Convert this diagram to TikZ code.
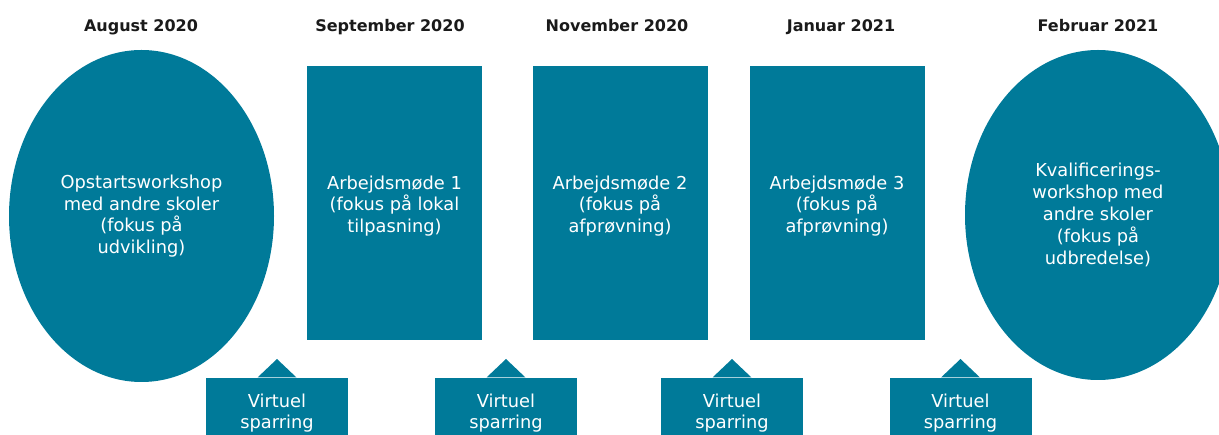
\documentclass[tikz,border=0pt]{standalone}
\usepackage{fontspec}
\setmainfont{DejaVu Sans}
\usetikzlibrary{shapes.geometric}
\definecolor{teal1}{RGB}{0,122,153}
\definecolor{hdr}{RGB}{26,26,26}
\tikzset{
  shapefill/.style={fill=teal1, draw=none, text=white, align=center, inner sep=0pt,
    font=\fontsize{17.8}{21.8}\selectfont},
  oval/.style={shapefill, ellipse},
  block/.style={shapefill, rectangle, minimum width=175pt, minimum height=274pt},
  callbox/.style={fill=teal1, draw=none, minimum width=142pt, minimum height=64pt, anchor=north, inner sep=0pt},
  calltext/.style={text=white, align=center, inner sep=0pt, font=\fontsize{17.8}{21}\selectfont},
  header/.style={text=hdr, anchor=base, inner sep=0pt, font=\bfseries\fontsize{16}{19}\selectfont}
}
\begin{document}
\begin{tikzpicture}[x=1pt,y=-1pt]
\useasboundingbox (0,0) rectangle (1219,435);
\clip (0,0) rectangle (1219,435);
% headers
\node[header] (h1) at (141,32) {August 2020};
\node[header] (h2) at (390,32) {September 2020};
\node[header] (h3) at (617,32) {November 2020};
\node[header] (h4) at (841,32) {Januar 2021};
\node[header] (h5) at (1098,32) {Februar 2021};
% main shapes
\node[oval, minimum width=265pt, minimum height=332pt] (e1) at (141.5,216)
  {Opstartsworkshop\\med andre skoler\\(fokus på\\udvikling)};
\node[block] (r1) at (394.5,203) {};
\node[shapefill] (t1) at (394.5,206) {Arbejdsmøde 1\\(fokus på lokal\\tilpasning)};
\node[block] (r2) at (620,203) {};
\node[shapefill] (t2) at (620,206) {Arbejdsmøde 2\\(fokus på\\afprøvning)};
\node[block] (r3) at (837,203) {};
\node[shapefill] (t3) at (837,206) {Arbejdsmøde 3\\(fokus på\\afprøvning)};
\node[oval, minimum width=266pt, minimum height=330pt] (e2) at (1098,215)
  {Kvalificerings-\\workshop med\\andre skoler\\(fokus på\\udbredelse)};
% callouts
\foreach \i/\x in {1/277,2/506,3/732,4/960.5}{
  \node[callbox] (c\i) at (\x,378) {};
  \coordinate (p\i) at (\x,359);
  \fill[teal1] ([xshift=-19.5pt,yshift=0.5pt]c\i.north) -- (p\i) -- ([xshift=19.5pt,yshift=0.5pt]c\i.north) -- cycle;
  \node[calltext] (v\i) at (\x,413) {Virtuel\\sparring};
}
\end{tikzpicture}
\end{document}
